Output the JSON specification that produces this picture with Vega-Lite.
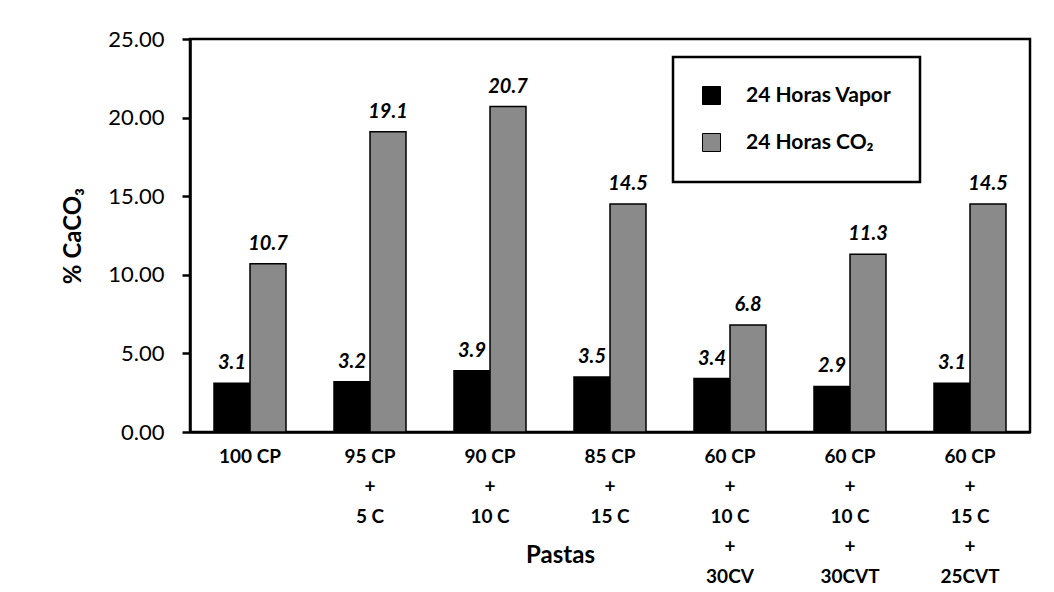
{
  "$schema": "https://vega.github.io/schema/vega-lite/v6.json",
  "width": 840,
  "height": 393,
  "autosize": "none",
  "padding": {"left": 190, "top": 39, "right": 24, "bottom": 160},
  "background": "white",
  "config": {
    "font": "Lato",
    "view": {"stroke": "black", "strokeWidth": 2.5},
    "legend": {"strokeWidth": 2.5}
  },
  "data": {
    "values": [
      {"pasta": "100 CP", "serie": "24 Horas Vapor", "valor": 3.1},
      {"pasta": "100 CP", "serie": "24 Horas CO₂", "valor": 10.7},
      {"pasta": "95 CP|+|5 C", "serie": "24 Horas Vapor", "valor": 3.2},
      {"pasta": "95 CP|+|5 C", "serie": "24 Horas CO₂", "valor": 19.1},
      {"pasta": "90 CP|+|10 C", "serie": "24 Horas Vapor", "valor": 3.9},
      {"pasta": "90 CP|+|10 C", "serie": "24 Horas CO₂", "valor": 20.7},
      {"pasta": "85 CP|+|15 C", "serie": "24 Horas Vapor", "valor": 3.5},
      {"pasta": "85 CP|+|15 C", "serie": "24 Horas CO₂", "valor": 14.5},
      {"pasta": "60 CP|+|10 C|+|30CV", "serie": "24 Horas Vapor", "valor": 3.4},
      {"pasta": "60 CP|+|10 C|+|30CV", "serie": "24 Horas CO₂", "valor": 6.8},
      {"pasta": "60 CP|+|10 C|+|30CVT", "serie": "24 Horas Vapor", "valor": 2.9},
      {"pasta": "60 CP|+|10 C|+|30CVT", "serie": "24 Horas CO₂", "valor": 11.3},
      {"pasta": "60 CP|+|15 C|+|25CVT", "serie": "24 Horas Vapor", "valor": 3.1},
      {"pasta": "60 CP|+|15 C|+|25CVT", "serie": "24 Horas CO₂", "valor": 14.5}
    ]
  },
  "encoding": {
    "x": {
      "field": "pasta",
      "type": "nominal",
      "sort": null,
      "scale": {"paddingInner": 0.4, "paddingOuter": 0.2},
      "axis": {
        "title": "Pastas",
        "titleFontSize": 24,
        "titleFontWeight": "bold",
        "titleX": 370,
        "titleY": 123,
        "titleAlign": "center",
        "titleBaseline": "middle",
        "labelExpr": "split(datum.label, '|')",
        "labelAngle": 0,
        "labelFontSize": 19,
        "labelFontWeight": "bold",
        "labelColor": "black",
        "labelPadding": 24,
        "labelLineHeight": 30,
        "labelBaseline": "middle",
        "ticks": false,
        "domainColor": "black",
        "domainWidth": 2.5
      }
    },
    "xOffset": {"field": "serie", "type": "nominal", "sort": ["24 Horas Vapor", "24 Horas CO₂"]},
    "y": {
      "field": "valor",
      "type": "quantitative",
      "scale": {"domain": [0, 25]},
      "axis": {
        "title": "% CaCO₃",
        "titleFontSize": 24,
        "titleFontWeight": "bold",
        "titlePadding": 22,
        "values": [0, 5, 10, 15, 20, 25],
        "format": ".2f",
        "grid": false,
        "labelFontSize": 22,
        "labelColor": "black",
        "labelPadding": 18,
        "tickSize": 8,
        "tickColor": "black",
        "tickWidth": 2.5,
        "domainColor": "black",
        "domainWidth": 2.5
      }
    }
  },
  "layer": [
    {
      "mark": {"type": "bar", "stroke": "black", "strokeWidth": 1.5},
      "encoding": {
        "color": {
          "field": "serie",
          "type": "nominal",
          "sort": ["24 Horas Vapor", "24 Horas CO₂"],
          "scale": {"domain": ["24 Horas Vapor", "24 Horas CO₂"], "range": ["#000000", "#8a8a8a"]},
          "legend": {
            "title": null,
            "orient": "none",
            "legendX": 483,
            "legendY": 18,
            "symbolType": "square",
            "symbolSize": 324,
            "symbolStrokeColor": "black",
            "symbolStrokeWidth": 1,
            "labelFontSize": 21,
            "labelFontWeight": "bold",
            "labelColor": "black",
            "labelOffset": 24,
            "labelLimit": 300,
            "rowPadding": 24,
            "padding": 28,
            "strokeColor": "black",
            "fillColor": "white"
          }
        }
      }
    },
    {
      "mark": {"type": "text", "dy": -20, "fontSize": 20, "fontWeight": "bold", "fontStyle": "italic", "color": "black"},
      "encoding": {
        "text": {"field": "valor", "type": "quantitative", "format": ".1f"}
      }
    }
  ]
}
